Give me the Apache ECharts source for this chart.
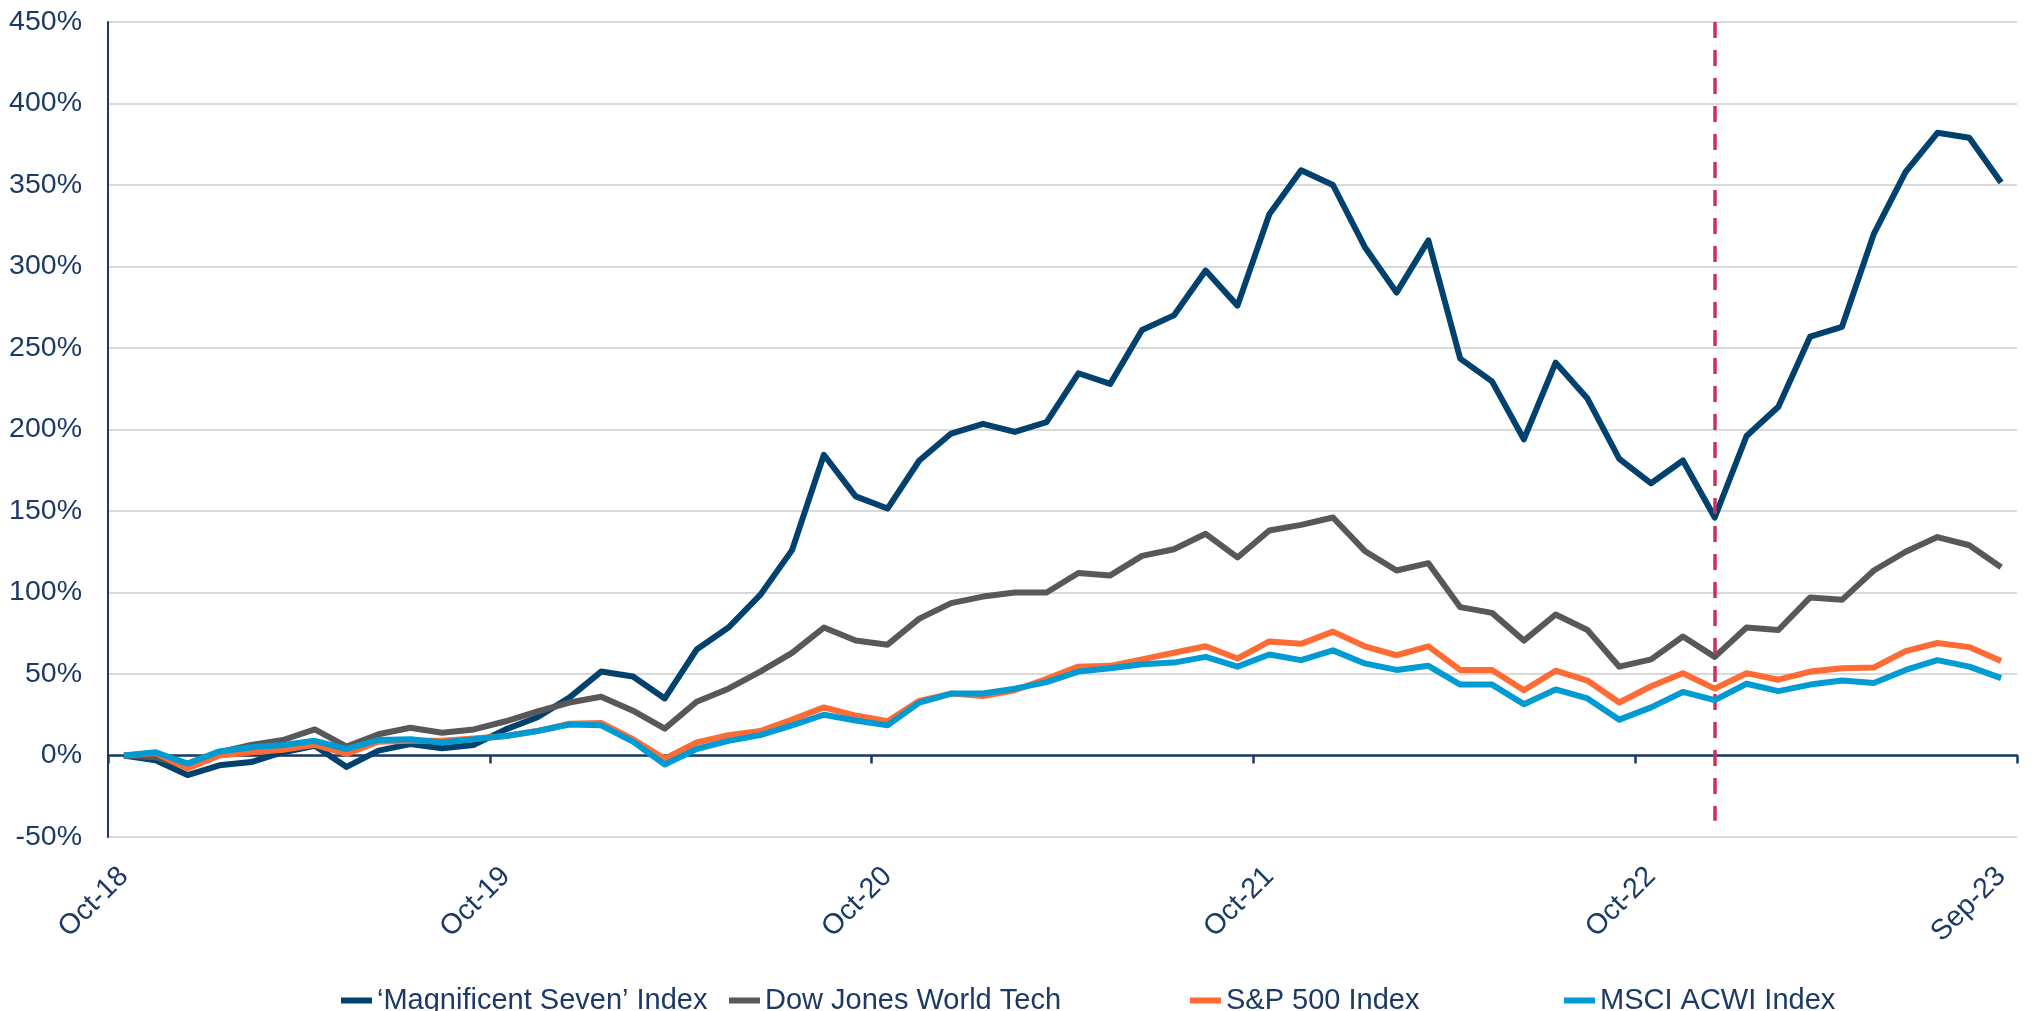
<!DOCTYPE html>
<html>
<head>
<meta charset="utf-8">
<script src="https://cdn.jsdelivr.net/npm/echarts@6/dist/echarts.min.js"></script>
<style>
  html, body { margin: 0; padding: 0; background: #fff; }
  #chart { width: 2042px; height: 1011px; }
</style>
</head>
<body>
<div id="chart"></div>
<script>
// monthly, Oct-18 .. Sep-23
const months = [
  'Oct-18','Nov-18','Dec-18','Jan-19','Feb-19','Mar-19','Apr-19','May-19','Jun-19','Jul-19','Aug-19','Sep-19',
  'Oct-19','Nov-19','Dec-19','Jan-20','Feb-20','Mar-20','Apr-20','May-20','Jun-20','Jul-20','Aug-20','Sep-20',
  'Oct-20','Nov-20','Dec-20','Jan-21','Feb-21','Mar-21','Apr-21','May-21','Jun-21','Jul-21','Aug-21','Sep-21',
  'Oct-21','Nov-21','Dec-21','Jan-22','Feb-22','Mar-22','Apr-22','May-22','Jun-22','Jul-22','Aug-22','Sep-22',
  'Oct-22','Nov-22','Dec-22','Jan-23','Feb-23','Mar-23','Apr-23','May-23','Jun-23','Jul-23','Aug-23','Sep-23'
];
// which months get a label on the x axis
const labelMonths = ['Oct-18', 'Oct-19', 'Oct-20', 'Oct-21', 'Oct-22', 'Sep-23'];

const seriesNames = ['\u2018Magnificent Seven\u2019 Index', 'Dow Jones World Tech', 'S&P 500 Index', 'MSCI ACWI Index'];

const mag7 = [
  0, -3, -12, -6, -4, 2, 6, -7, 3, 7, 4.5, 6.5,
  16, 23.5, 35.5, 51.5, 48.5, 35, 65, 78.5, 98.5, 126, 184.5, 159,
  151.5, 181, 197.5, 203.5, 198.5, 204.5, 234.5, 228, 261, 270, 297.5, 276,
  332, 359, 350, 312, 284, 316, 243.5, 229.5, 194, 241, 219, 182,
  167, 181, 146, 196, 214, 257, 263, 320, 358, 382, 379, 351.5
];
const dowTech = [
  0, -1, -7, 2, 6.5, 9.5, 16, 5.5, 13, 17, 14, 16,
  21, 27, 32.5, 36, 27.5, 16.5, 33, 41, 51.5, 63, 78.5, 70.5,
  68, 84, 93.5, 97.5, 100, 100, 112, 110.5, 122.5, 126.5, 136, 121.5,
  138, 141.5, 146, 125.5, 113.5, 118, 91, 87.5, 70.5, 86.5, 77, 54.5,
  59, 73, 60.5, 78.5, 77, 97, 95.5, 113.5, 125, 134, 129, 115.5
];
const sp500 = [
  0, 1.5, -8, 0, 2, 3.5, 6.5, 1, 8.5, 9, 9, 10.5,
  12, 15, 19.5, 20, 10, -2, 8, 12.5, 15, 22, 29.5, 24.5,
  21, 33.5, 38, 36.5, 40, 47, 54.5, 55, 59, 63, 67, 59.5,
  70, 68.5, 76, 67, 61.5, 67, 52.5, 52.5, 40, 52, 46, 32.5,
  42.5, 50.5, 41, 50.5, 46.5, 51.5, 53.5, 54, 64, 69, 66.5, 58
];
const acwi = [
  0, 2, -5, 2.5, 5, 6.5, 9, 4, 9.5, 10, 8, 10,
  12, 15, 19, 18.5, 8.5, -5.5, 4, 9, 12.5, 18.5, 25, 21.5,
  18.5, 32.5, 38, 38, 41, 45, 51.5, 53.5, 56, 57, 60.5, 54.5,
  62, 58.5, 64.5, 56.5, 52.5, 55, 43.5, 43.5, 31.5, 40.5, 35, 22,
  29.5, 39, 34, 44, 39.5, 43.5, 46, 44.5, 52.5, 58.5, 54.5, 47.5
];

// dashed marker (start of 2023 rally)
const markerMonth = 'Dec-22';
const markerRange = [450, -40];

const navy = '#1B3A66';
const fontFamily = '"Liberation Sans", Arial, sans-serif';
const colors = ['#00416E', '#58585A', '#FF6B35', '#009BD2'];
const seriesData = [mag7, dowTech, sp500, acwi];

const chart = echarts.init(document.getElementById('chart'));

const option = {
  animation: false,
  backgroundColor: '#fff',
  textStyle: { fontFamily: fontFamily },
  grid: { left: 108, right: 25, top: 22, bottom: 174, containLabel: false, outerBoundsMode: 'none' },
  // one legend per item so each can sit where the original puts it
  legend: [336, 724, 1185, 1559].map((x, k) => ({
    data: [seriesNames[k]],
    left: x,
    top: 981,
    icon: 'rect',
    itemWidth: 31,
    itemHeight: 6,
    textStyle: { color: navy, fontSize: 29, fontFamily: fontFamily }
  })),
  xAxis: {
    type: 'category',
    data: months,
    boundaryGap: true,
    axisLine: { onZero: true, lineStyle: { color: navy, width: 2.5 } },
    axisTick: { show: true, interval: 11, length: 8, lineStyle: { color: navy, width: 2.5 } },
    axisLabel: {
      interval: (idx, val) => labelMonths.indexOf(val) >= 0,
      rotate: 45,
      margin: 35,
      color: navy,
      fontSize: 28.5,
      fontFamily: fontFamily
    },
    splitLine: { show: false }
  },
  yAxis: {
    type: 'value',
    min: -50,
    max: 450,
    interval: 50,
    axisLine: { show: true, lineStyle: { color: navy, width: 2 } },
    axisTick: { show: false },
    axisLabel: {
      formatter: '{value}%',
      margin: 26,
      color: navy,
      fontSize: 28.5,
      fontFamily: fontFamily
    },
    splitLine: { lineStyle: { color: '#D9D9D9', width: 2 } }
  },
  series: seriesNames.map((name, k) => ({
    name: name,
    type: 'line',
    data: seriesData[k],
    symbol: 'none',
    color: colors[k],
    lineStyle: { color: colors[k], width: 6, join: 'round' },
    z: 2 + k,
    markLine: k === 0 ? {
      silent: true,
      symbol: ['none', 'none'],
      label: { show: false },
      lineStyle: { color: '#C8325E', width: 3.5, type: [16, 12] },
      data: [[{ coord: [markerMonth, markerRange[0]] }, { coord: [markerMonth, markerRange[1]] }]]
    } : undefined
  }))
};

chart.setOption(option);
</script>
</body>
</html>
